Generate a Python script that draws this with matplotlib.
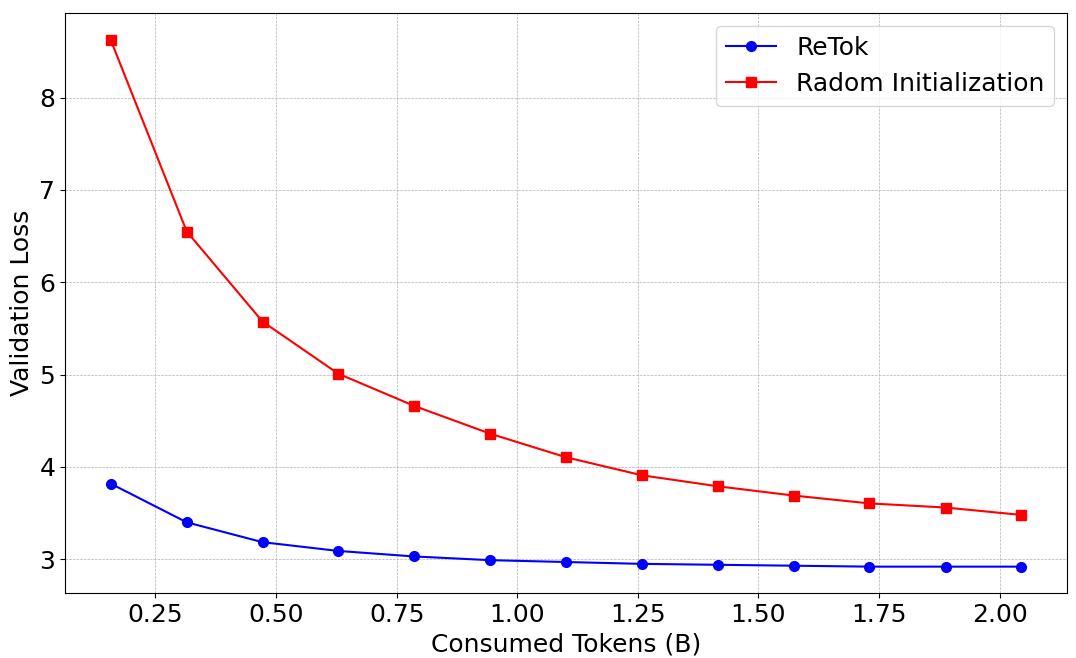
import matplotlib
matplotlib.use("Agg")
import matplotlib.pyplot as plt

tokens = [0.157, 0.315, 0.472, 0.629, 0.787, 0.944, 1.101, 1.258, 1.416, 1.573, 1.730, 1.888, 2.045]
retok = [3.82, 3.40, 3.185, 3.09, 3.03, 2.99, 2.97, 2.95, 2.94, 2.93, 2.92, 2.92, 2.92]
radom = [8.63, 6.55, 5.575, 5.01, 4.66, 4.36, 4.105, 3.91, 3.79, 3.69, 3.605, 3.56, 3.48]

fig, ax = plt.subplots(figsize=(10.76, 6.58), dpi=100)
ax.plot(tokens, retok, color='blue', marker='o', markersize=7, label='ReTok')
ax.plot(tokens, radom, color='red', marker='s', markersize=6.5, label='Radom Initialization')
ax.set_xlabel('Consumed Tokens (B)', fontsize=18)
ax.set_ylabel('Validation Loss', fontsize=18)
ax.tick_params(labelsize=18)
ax.grid(True, linestyle='--', linewidth=0.5)
ax.legend(fontsize=18)
fig.subplots_adjust(left=0.0604, right=0.9916, top=0.980, bottom=0.0988)
plt.savefig('out.png')
